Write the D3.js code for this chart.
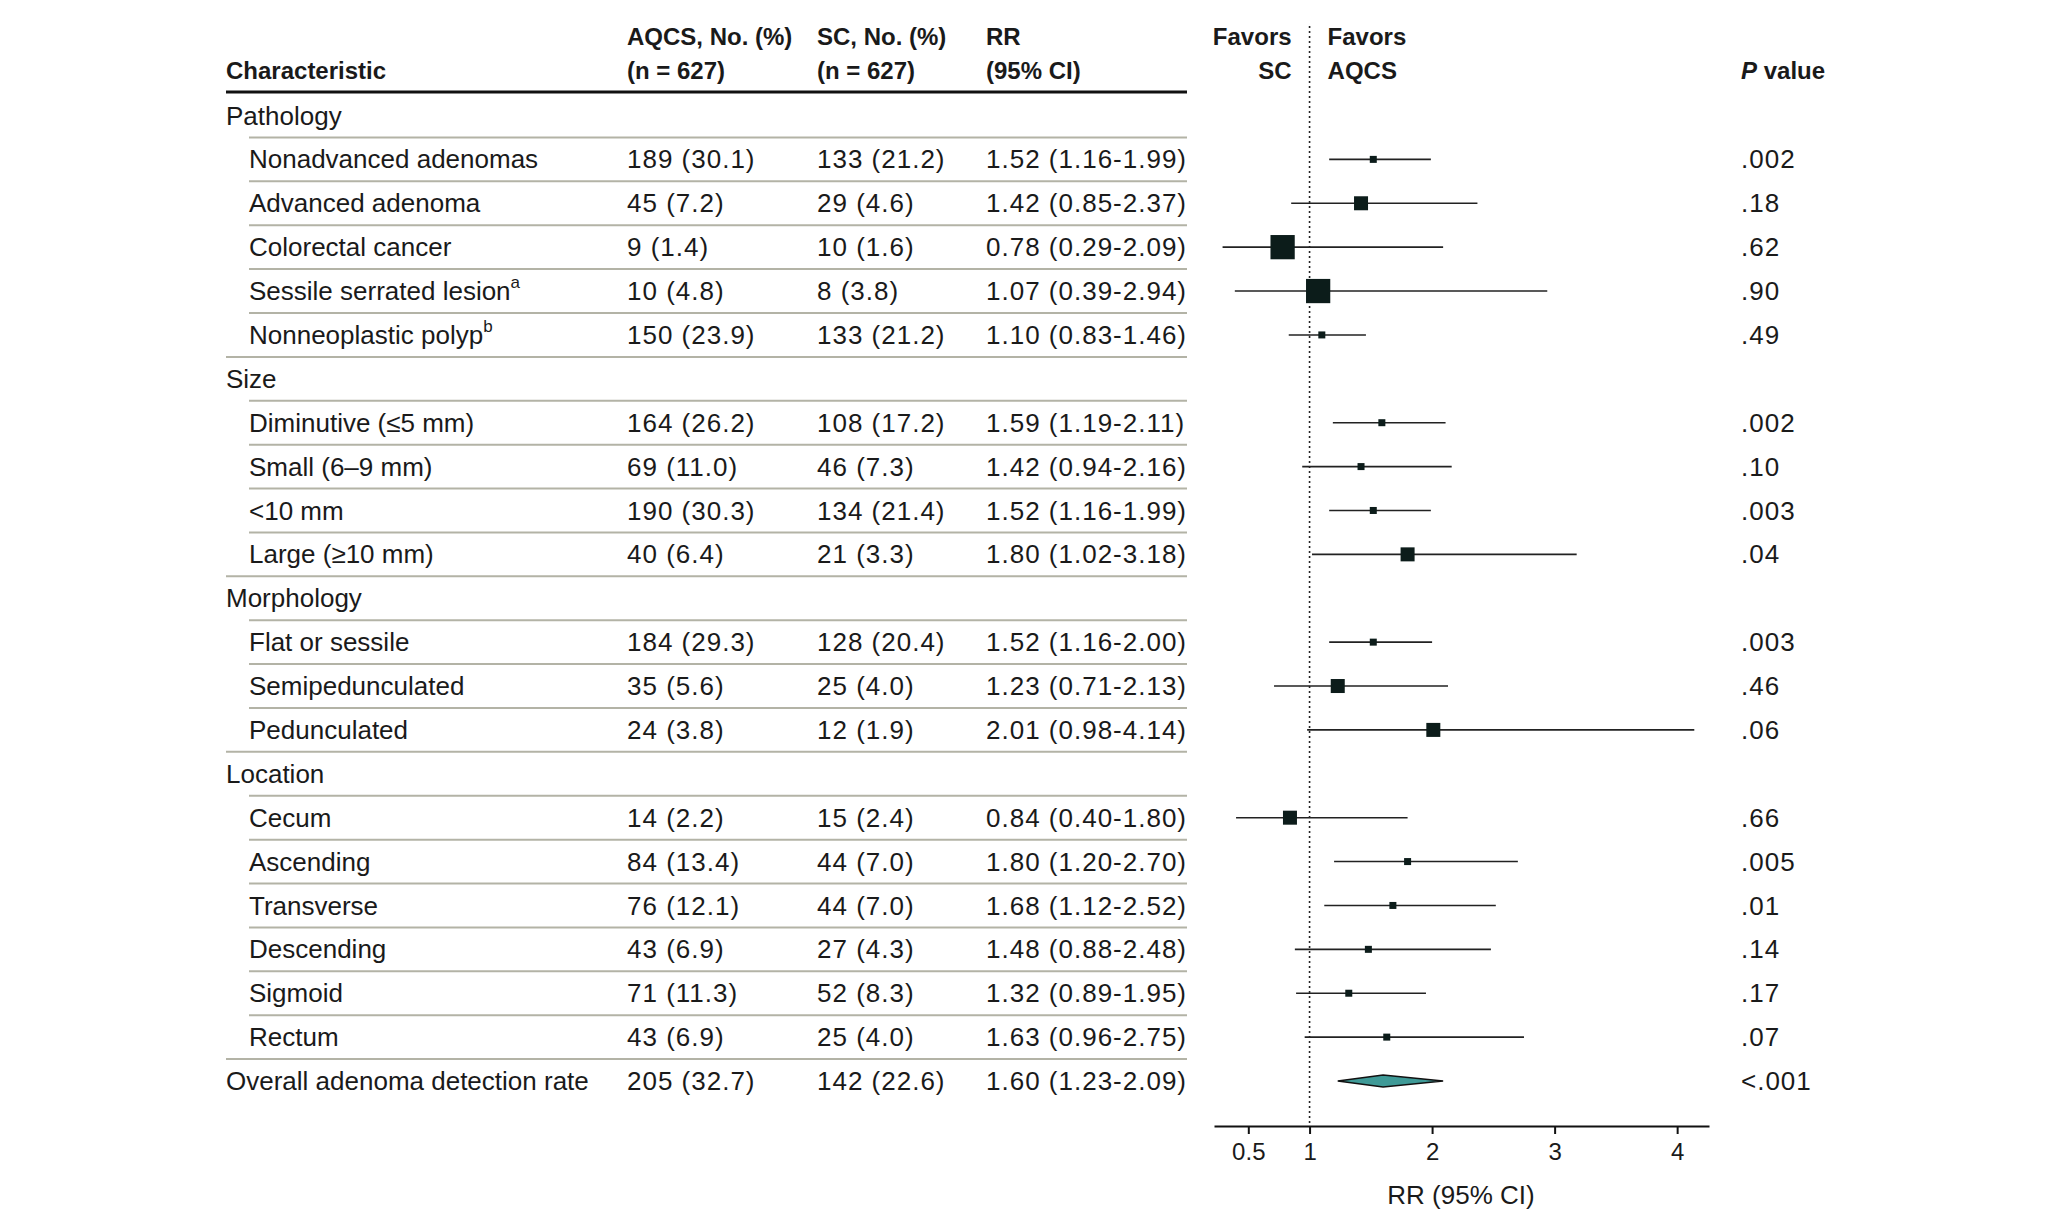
<!DOCTYPE html>
<html>
<head>
<meta charset="utf-8">
<script src="https://cdn.jsdelivr.net/npm/d3@7"></script>
<style>
  body { margin: 0; background: #fff; }
  svg { display: block; font-family: "Liberation Sans", Arial, sans-serif; }
</style>
</head>
<body>
<div id="chart"></div>
<script>
const width = 2048;
const height = 1232;

// table content, one entry per row (group rows have null values)
const labels = [
    'Pathology', 'Nonadvanced adenomas', 'Advanced adenoma', 'Colorectal cancer',
    'Sessile serrated lesion', 'Nonneoplastic polyp',
    'Size', 'Diminutive (≤5 mm)', 'Small (6–9 mm)', '<10 mm', 'Large (≥10 mm)',
    'Morphology', 'Flat or sessile', 'Semipedunculated', 'Pedunculated',
    'Location', 'Cecum', 'Ascending', 'Transverse', 'Descending', 'Sigmoid', 'Rectum',
    'Overall adenoma detection rate'
];
const footnotes = [null, null, null, null, 'a', 'b', null, null, null, null, null,
    null, null, null, null, null, null, null, null, null, null, null, null];
const rowType = ['group', 'item', 'item', 'item', 'item', 'item',
    'group', 'item', 'item', 'item', 'item',
    'group', 'item', 'item', 'item',
    'group', 'item', 'item', 'item', 'item', 'item', 'item',
    'overall'];

const aqcsN = [null, 189, 45, 9, 10, 150, null, 164, 69, 190, 40, null, 184, 35, 24, null, 14, 84, 76, 43, 71, 43, 205];
const aqcsPct = [null, 30.1, 7.2, 1.4, 4.8, 23.9, null, 26.2, 11.0, 30.3, 6.4, null, 29.3, 5.6, 3.8, null, 2.2, 13.4, 12.1, 6.9, 11.3, 6.9, 32.7];
const scN = [null, 133, 29, 10, 8, 133, null, 108, 46, 134, 21, null, 128, 25, 12, null, 15, 44, 44, 27, 52, 25, 142];
const scPct = [null, 21.2, 4.6, 1.6, 3.8, 21.2, null, 17.2, 7.3, 21.4, 3.3, null, 20.4, 4.0, 1.9, null, 2.4, 7.0, 7.0, 4.3, 8.3, 4.0, 22.6];

const rr = [null, 1.52, 1.42, 0.78, 1.07, 1.10, null, 1.59, 1.42, 1.52, 1.80, null, 1.52, 1.23, 2.01, null, 0.84, 1.80, 1.68, 1.48, 1.32, 1.63, 1.60];
const rrLow = [null, 1.16, 0.85, 0.29, 0.39, 0.83, null, 1.19, 0.94, 1.16, 1.02, null, 1.16, 0.71, 0.98, null, 0.40, 1.20, 1.12, 0.88, 0.89, 0.96, 1.23];
const rrHigh = [null, 1.99, 2.37, 2.09, 2.94, 1.46, null, 2.11, 2.16, 1.99, 3.18, null, 2.00, 2.13, 4.14, null, 1.80, 2.70, 2.52, 2.48, 1.95, 2.75, 2.09];
const pValues = [null, '.002', '.18', '.62', '.90', '.49', null, '.002', '.10', '.003', '.04', null, '.003', '.46', '.06', null, '.66', '.005', '.01', '.14', '.17', '.07', '<.001'];
// relative marker weight
const weights = [null, 1, 4, 12, 12, 1, null, 1, 1, 1, 4, null, 1, 4, 4, null, 4, 1, 1, 1, 1, 1, null];

const xTicks = [0.5, 1, 2, 3, 4];

const rows = labels.map((label, i) => ({
    label, note: footnotes[i], type: rowType[i],
    aqcsN: aqcsN[i], aqcsPct: aqcsPct[i], scN: scN[i], scPct: scPct[i],
    rr: rr[i], lo: rrLow[i], hi: rrHigh[i], p: pValues[i], w: weights[i]
}));

const textColor = '#1a1a1a';
const fontSize = 26;
const headSize = 24;
const col = { char: 226, sub: 249, aqcs: 627, sc: 817, rr: 986, right: 1187, p: 1741 };

const f1 = d3.format('.1f');
const f2 = d3.format('.2f');

const svg = d3.select('#chart')
    .append('svg')
    .attr('width', width)
    .attr('height', height);

const y = d3.scalePoint()
    .domain(d3.range(rows.length))
    .range([115.5, 1081]);

const x = d3.scaleLinear()
    .domain([0.22, 4.26])
    .range([1214, 1709]);

const boxSize = d3.scaleSqrt().domain([0, 1]).range([0, 7]);

// ---- header
const header = svg.append('g')
    .attr('font-size', headSize)
    .attr('font-weight', 'bold')
    .attr('fill', textColor);

function headerText(tx, ty, str, anchor = 'start') {
    return header.append('text')
        .attr('x', tx).attr('y', ty).attr('dy', '0.35em')
        .attr('text-anchor', anchor)
        .text(str);
}

headerText(col.char, 71, 'Characteristic');
headerText(col.aqcs, 37, 'AQCS, No. (%)');
headerText(col.aqcs, 71, '(n = 627)');
headerText(col.sc, 37, 'SC, No. (%)');
headerText(col.sc, 71, '(n = 627)');
headerText(col.rr, 37, 'RR');
headerText(col.rr, 71, '(95% CI)');
headerText(x(1) - 18, 37, 'Favors', 'end');
headerText(x(1) - 18, 71, 'SC', 'end');
headerText(x(1) + 18, 37, 'Favors');
headerText(x(1) + 18, 71, 'AQCS');

const pHead = headerText(col.p, 71, '');
pHead.append('tspan').attr('font-style', 'italic').text('P');
pHead.append('tspan').text(' value');

svg.append('line')
    .attr('x1', col.char).attr('x2', col.right)
    .attr('y1', 92).attr('y2', 92)
    .attr('stroke', '#111')
    .attr('stroke-width', 3);

// ---- row separators
const step = y.step();
svg.append('g')
    .selectAll('line')
    .data(rows.slice(1).map((d, i) => ({ d, i: i + 1 })))
    .join('line')
    .attr('x1', (r) => r.d.type === 'item' ? col.sub : col.char)
    .attr('x2', col.right)
    .attr('y1', (r) => y(r.i) - step / 2)
    .attr('y2', (r) => y(r.i) - step / 2)
    .attr('stroke', '#b3b3a6')
    .attr('stroke-width', 2);

// ---- table text
const table = svg.append('g')
    .attr('font-size', fontSize)
    .attr('fill', textColor);

const rowG = table.selectAll('g.row')
    .data(rows)
    .join('g')
    .attr('class', 'row')
    .attr('transform', (d, i) => `translate(0,${y(i)})`);

const lab = rowG.append('text')
    .attr('x', (d) => d.type === 'item' ? col.sub : col.char)
    .attr('dy', '0.35em')
    .text((d) => d.label);

lab.filter((d) => d.note)
    .append('tspan')
    .attr('font-size', 17)
    .attr('dy', '-0.7em')
    .text((d) => d.note);

const valued = rowG.filter((d) => d.rr !== null);

// digits in the original face run wider than Liberation's, hence the spacing
valued.append('text')
    .attr('x', col.aqcs).attr('dy', '0.35em')
    .attr('letter-spacing', 1)
    .text((d) => `${d.aqcsN} (${f1(d.aqcsPct)})`);

valued.append('text')
    .attr('x', col.sc).attr('dy', '0.35em')
    .attr('letter-spacing', 1)
    .text((d) => `${d.scN} (${f1(d.scPct)})`);

valued.append('text')
    .attr('x', col.rr).attr('dy', '0.35em')
    .attr('letter-spacing', 1)
    .text((d) => `${f2(d.rr)} (${f2(d.lo)}-${f2(d.hi)})`);

valued.append('text')
    .attr('x', col.p).attr('dy', '0.35em')
    .attr('letter-spacing', 1)
    .text((d) => d.p);

// ---- forest plot
const axisY = 1126;

svg.append('line')
    .attr('x1', x(1)).attr('x2', x(1))
    .attr('y1', 26).attr('y2', axisY)
    .attr('stroke', '#222')
    .attr('stroke-width', 1.6)
    .attr('stroke-dasharray', '2,3');

const forest = svg.append('g');

const est = forest.selectAll('g.est')
    .data(rows.filter((d) => d.type === 'item').map((d) => ({ ...d, i: rows.indexOf(d) })))
    .join('g')
    .attr('class', 'est');

est.append('line')
    .attr('x1', (d) => x(d.lo))
    .attr('x2', (d) => x(d.hi))
    .attr('y1', (d) => y(d.i))
    .attr('y2', (d) => y(d.i))
    .attr('stroke', '#222')
    .attr('stroke-width', 1.6);

est.append('rect')
    .attr('x', (d) => x(d.rr) - boxSize(d.w) / 2)
    .attr('y', (d) => y(d.i) - boxSize(d.w) / 2)
    .attr('width', (d) => boxSize(d.w))
    .attr('height', (d) => boxSize(d.w))
    .attr('fill', '#0c1c1a');

const overall = rows.map((d, i) => ({ ...d, i })).filter((d) => d.type === 'overall');
forest.selectAll('path.diamond')
    .data(overall)
    .join('path')
    .attr('class', 'diamond')
    .attr('d', (d) => {
        const cy = y(d.i), h = 6;
        return `M${x(d.lo)},${cy}L${x(d.rr)},${cy - h}L${x(d.hi)},${cy}L${x(d.rr)},${cy + h}Z`;
    })
    .attr('fill', '#3f9a97')
    .attr('stroke', '#111')
    .attr('stroke-width', 1.5);

// ---- axis
const xAxis = d3.axisBottom(x)
    .tickValues(xTicks)
    .tickFormat((d) => d)
    .tickSize(8)
    .tickSizeOuter(0)
    .tickPadding(9);

const ax = svg.append('g')
    .attr('transform', `translate(0,${axisY})`)
    .call(xAxis);

ax.select('.domain').attr('stroke', '#111').attr('stroke-width', 2);
ax.selectAll('.tick line').attr('stroke', '#111').attr('stroke-width', 2);
ax.selectAll('.tick text')
    .attr('font-family', '"Liberation Sans", Arial, sans-serif')
    .attr('font-size', 24)
    .attr('fill', textColor);

svg.append('text')
    .attr('x', 1461).attr('y', 1195).attr('dy', '0.35em')
    .attr('text-anchor', 'middle')
    .attr('font-size', fontSize)
    .attr('fill', textColor)
    .text('RR (95% CI)');
</script>
</body>
</html>
